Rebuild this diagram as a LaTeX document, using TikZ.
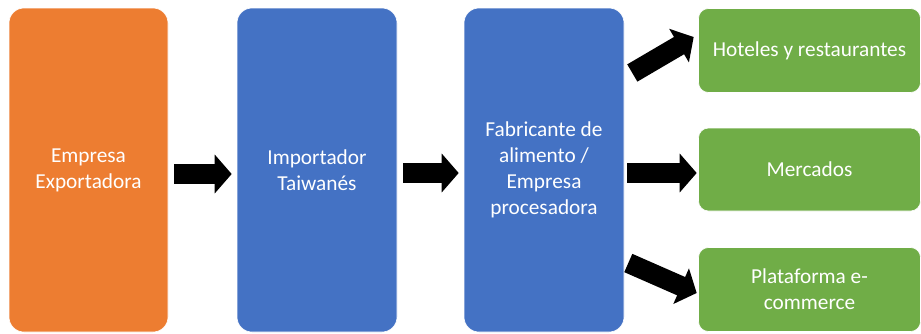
\documentclass[tikz,border=0pt]{standalone}
\usepackage{fontspec}
\setmainfont{Carlito}
\usepackage{tikz}
\usetikzlibrary{arrows.meta}
\definecolor{naranja}{HTML}{ED7D31}
\definecolor{azul}{HTML}{4472C4}
\definecolor{verde}{HTML}{70AD47}
\tikzset{
	caja/.style={rectangle, rounded corners=15pt, draw=white, line width=0.6pt, text=white, align=center,
		font=\fontsize{21.3}{26}\selectfont, minimum width=160pt, minimum height=324pt, inner sep=2pt},
	cajaverde/.style={caja, fill=verde, rounded corners=10pt, minimum width=222pt, minimum height=84pt},
	flecha/.style={draw=black, line width=20pt, -{Triangle[width=38pt,length=17pt]}},
}

\begin{document}
\begin{tikzpicture}[x=1pt,y=-1pt]
		% fija el marco
		\useasboundingbox (0,0) rectangle (921,333);
		\node[caja, fill=naranja, minimum width=159pt] (exp) at (88.5,170) {Empresa\\Exportadora};
		\node[caja, fill=azul] (imp) at (317,170) {Importador\\Taiwanés};
		\node[caja, fill=azul] (fab) at (544,170) {Fabricante de\\alimento /\\Empresa\\procesadora};
		\node[cajaverde] (hot) at (809.5,50.5) {Hoteles y restaurantes};
		\node[cajaverde, minimum height=83pt] (mer) at (809.5,169.5) {Mercados};
		\node[cajaverde] (pla) at (809.5,289.5) {Plataforma e-\\commerce};
		% flechas
		\draw[flecha] ([xshift=6pt,yshift=-4pt]exp.east) -- ([xshift=-5pt,yshift=-4pt]imp.west);
		\draw[flecha] ([xshift=6pt,yshift=-3pt]imp.east) -- ([xshift=-5pt,yshift=-3pt]fab.west);
		\draw[flecha] ([xshift=8pt,yshift=97pt]fab.east) -- ([xshift=-4.5pt,yshift=13.5pt]hot.west);
		\draw[flecha] ([xshift=3pt,yshift=-3pt]fab.east) -- ([xshift=-1.5pt,yshift=-3.5pt]mer.west);
		\draw[flecha] ([xshift=4pt,yshift=-93pt]fab.east) -- ([xshift=-1.5pt,yshift=-3.5pt]pla.west);
	\end{tikzpicture}
\end{document}
